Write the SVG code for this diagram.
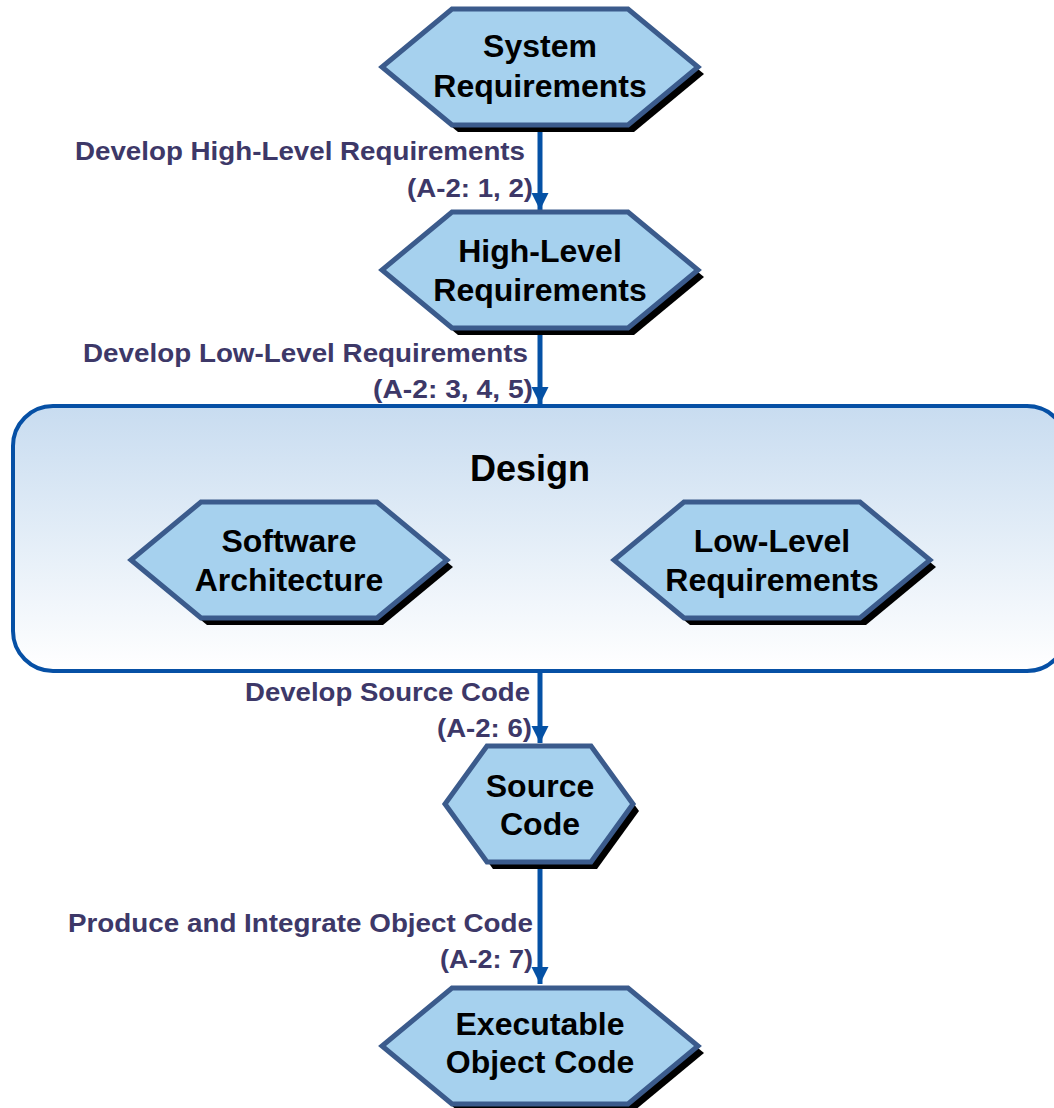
<svg xmlns="http://www.w3.org/2000/svg" width="1054" height="1108" viewBox="0 0 1054 1108">
  <style>
    .hex { fill: #a6d1ee; stroke: #3b5b8c; stroke-width: 5; stroke-linejoin: miter; }
    .shadow { fill: #000; filter: url(#soft); }
    .node-text { font-family: "Liberation Sans", Arial, sans-serif; font-weight: bold; font-size: 32px; fill: #000; text-anchor: middle; }
    .title { font-family: "Liberation Sans", Arial, sans-serif; font-weight: bold; font-size: 36px; fill: #000; text-anchor: middle; }
    .label { font-family: "Liberation Sans", Arial, sans-serif; font-weight: bold; font-size: 26.5px; fill: #3d3868; text-anchor: end; }
    .flow { stroke: #0451a5; stroke-width: 5; fill: none; marker-end: url(#head); }
  </style>
  <defs>
    <filter id="soft" x="-10%" y="-10%" width="120%" height="130%">
      <feGaussianBlur stdDeviation="0.5"/>
    </filter>
    <linearGradient id="designFill" x1="0" y1="0" x2="0" y2="1">
      <stop offset="0" stop-color="#c8dcf0"/>
      <stop offset="1" stop-color="#ffffff"/>
    </linearGradient>
    <marker id="head" markerUnits="userSpaceOnUse" markerWidth="18" markerHeight="18" refX="17" refY="8.5" orient="auto">
      <path d="M0,0 L17,8.5 L0,17 z" fill="#0451a5"/>
    </marker>
    <polygon id="hexL" points="-88,-58 88,-58 158,0 88,58 -88,58 -158,0"/>
    <polygon id="hexS" points="-52,-58 52,-58 94,0 52,58 -52,58 -94,0"/>
  </defs>

  <!-- connectors -->
  <g id="connectors">
    <line class="flow" x1="540" y1="125" x2="540" y2="210"/>
    <line class="flow" x1="540" y1="326" x2="540" y2="404"/>
    <line class="flow" x1="540" y1="671" x2="540" y2="743"/>
    <line class="flow" x1="540" y1="860" x2="540" y2="984"/>
    <text class="label" x="525" y="160" textLength="450" lengthAdjust="spacingAndGlyphs">Develop High-Level Requirements</text>
    <text class="label" x="533" y="197" textLength="126" lengthAdjust="spacingAndGlyphs">(A-2: 1, 2)</text>
    <text class="label" x="528" y="362" textLength="445" lengthAdjust="spacingAndGlyphs">Develop Low-Level Requirements</text>
    <text class="label" x="533" y="398" textLength="160" lengthAdjust="spacingAndGlyphs">(A-2: 3, 4, 5)</text>
    <text class="label" x="530" y="701" textLength="285" lengthAdjust="spacingAndGlyphs">Develop Source Code</text>
    <text class="label" x="532" y="737" textLength="95" lengthAdjust="spacingAndGlyphs">(A-2: 6)</text>
    <text class="label" x="533" y="932" textLength="465" lengthAdjust="spacingAndGlyphs">Produce and Integrate Object Code</text>
    <text class="label" x="533" y="968" textLength="93" lengthAdjust="spacingAndGlyphs">(A-2: 7)</text>
  </g>

  <!-- System Requirements -->
  <g id="system-requirements" transform="translate(540,67)">
    <use href="#hexL" class="shadow" transform="translate(6,7)"/>
    <use href="#hexL" class="hex"/>
    <text class="node-text" x="0" y="-10">System</text>
    <text class="node-text" x="0" y="30">Requirements</text>
  </g>

  <!-- High-Level Requirements -->
  <g id="high-level-requirements" transform="translate(540,270)">
    <use href="#hexL" class="shadow" transform="translate(6,7)"/>
    <use href="#hexL" class="hex"/>
    <text class="node-text" x="0" y="-8">High-Level</text>
    <text class="node-text" x="0" y="31">Requirements</text>
  </g>

  <!-- Design container -->
  <g id="design">
    <rect x="13" y="406" width="1054" height="265" rx="40" ry="40" fill="url(#designFill)" stroke="#0650a5" stroke-width="4"/>
    <text class="title" x="530" y="481">Design</text>
  </g>

  <!-- Software Architecture -->
  <g id="software-architecture" transform="translate(289,560)">
    <use href="#hexL" class="shadow" transform="translate(6,7)"/>
    <use href="#hexL" class="hex"/>
    <text class="node-text" x="0" y="-8">Software</text>
    <text class="node-text" x="0" y="31">Architecture</text>
  </g>

  <!-- Low-Level Requirements -->
  <g id="low-level-requirements" transform="translate(772,560)">
    <use href="#hexL" class="shadow" transform="translate(6,7)"/>
    <use href="#hexL" class="hex"/>
    <text class="node-text" x="0" y="-8">Low-Level</text>
    <text class="node-text" x="0" y="31">Requirements</text>
  </g>

  <!-- Source Code -->
  <g id="source-code" transform="translate(539,804)">
    <use href="#hexS" class="shadow" transform="translate(6,7)"/>
    <use href="#hexS" class="hex"/>
    <text class="node-text" x="1" y="-7">Source</text>
    <text class="node-text" x="1" y="31">Code</text>
  </g>

  <!-- Executable Object Code -->
  <g id="executable-object-code" transform="translate(540,1046)">
    <use href="#hexL" class="shadow" transform="translate(6,7)"/>
    <use href="#hexL" class="hex"/>
    <text class="node-text" x="0" y="-11">Executable</text>
    <text class="node-text" x="0" y="27">Object Code</text>
  </g>
</svg>
